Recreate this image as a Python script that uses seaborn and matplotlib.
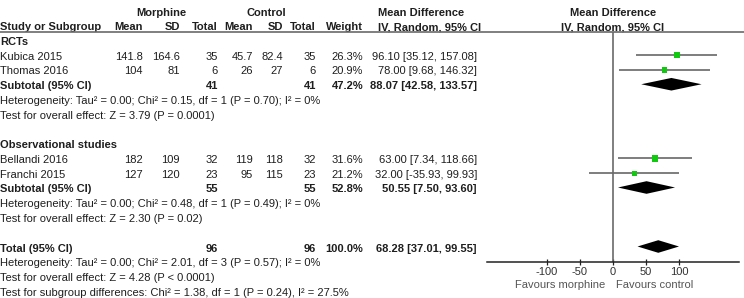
import numpy as np
import pandas as pd
import seaborn as sns
import matplotlib.pyplot as plt
from matplotlib.lines import Line2D

# study level data
studies = ["Kubica 2015", "Thomas 2016", "Bellandi 2016", "Franchi 2015"]
groups = ["RCTs", "RCTs", "Observational studies", "Observational studies"]
morph_mean = [141.8, 104, 182, 127]
morph_sd = [164.6, 81, 109, 120]
morph_n = [35, 6, 32, 23]
ctrl_mean = [45.7, 26, 119, 95]
ctrl_sd = [82.4, 27, 118, 115]
ctrl_n = [35, 6, 32, 23]
weight = [26.3, 20.9, 31.6, 21.2]
md = [96.10, 78.00, 63.00, 32.00]
md_lo = [35.12, 9.68, 7.34, -35.93]
md_hi = [157.08, 146.32, 118.66, 99.93]

# subgroup / total pooled results
sub_names = ["RCTs", "Observational studies"]
sub_n = [41, 55]
sub_w = [47.2, 52.8]
sub_md = [88.07, 50.55]
sub_lo = [42.58, 7.50]
sub_hi = [133.57, 93.60]
sub_het = ["Heterogeneity: Tau² = 0.00; Chi² = 0.15, df = 1 (P = 0.70); I² = 0%",
           "Heterogeneity: Tau² = 0.00; Chi² = 0.48, df = 1 (P = 0.49); I² = 0%"]
sub_z = ["Test for overall effect: Z = 3.79 (P = 0.0001)",
         "Test for overall effect: Z = 2.30 (P = 0.02)"]
tot_n = 96
tot_md, tot_lo, tot_hi = 68.28, 37.01, 99.55
tot_lines = ["Heterogeneity: Tau² = 0.00; Chi² = 2.01, df = 3 (P = 0.57); I² = 0%",
             "Test for overall effect: Z = 4.28 (P < 0.0001)",
             "Test for subgroup differences: Chi² = 1.38, df = 1 (P = 0.24), I² = 27.5%"]
xticks = [-100, -50, 0, 50, 100]

sns.set_theme(style="white")
plt.rcParams["font.family"] = ["Liberation Sans", "DejaVu Sans"]
FS = 8.0
TXT = "#1e1e1e"

fig = plt.figure(figsize=(7.44, 2.98), dpi=100)
tax = fig.add_axes([0, 0, 1, 1])
tax.set_xlim(0, 744)
tax.set_ylim(298, 0)
tax.axis("off")

def row_y(i):
    return 12 + 14.75 * i

def put(x, i, s, ha="left", bold=False, color=TXT):
    tax.text(x, row_y(i) + 0.5, s, ha=ha, va="center", fontsize=FS,
             fontweight="bold" if bold else "normal", color=color)

# column right edges
cols = [143, 180, 218, 253, 283, 316, 363, 477]

# headers
put(161, 0, "Morphine", ha="center", bold=True)
put(266, 0, "Control", ha="center", bold=True)
put(378, 0, "Mean Difference", bold=True)
put(613, 0, "Mean Difference", ha="center", bold=True)
put(0, 1, "Study or Subgroup", bold=True)
for c, h in zip(cols[:7], ["Mean", "SD", "Total", "Mean", "SD", "Total", "Weight"]):
    put(c, 1, h, ha="right", bold=True)
put(378, 1, "IV, Random, 95% CI", bold=True)
put(613, 1, "IV, Random, 95% CI", ha="center", bold=True)
fig.add_artist(Line2D([0, 1], [1 - 32.3 / 298] * 2, color="#6a6a6a", lw=1.2))

df = pd.DataFrame({"study": studies, "group": groups, "md": md, "lo": md_lo,
                   "hi": md_hi, "weight": weight})

# forest axes
fax = fig.add_axes([486.7 / 744, (298 - 261.7) / 298, 252.6 / 744, 229.4 / 298])
fax.set_xlim(-190.5, 190.5)
fax.set_ylim(261.7, 32.3)
fax.patch.set_alpha(0)

i = 2
ys = []
for g in range(2):
    put(0, i, sub_names[g], bold=True)
    i += 1
    for k in range(len(studies)):
        if groups[k] != sub_names[g]:
            continue
        vals = [f"{morph_mean[k]:g}", f"{morph_sd[k]:g}", f"{morph_n[k]}",
                f"{ctrl_mean[k]:g}", f"{ctrl_sd[k]:g}", f"{ctrl_n[k]}",
                f"{weight[k]:.1f}%", f"{md[k]:.2f} [{md_lo[k]:.2f}, {md_hi[k]:.2f}]"]
        put(0, i, studies[k])
        for c, v in zip(cols, vals):
            put(c, i, v, ha="right")
        ys.append(row_y(i) - 1)
        i += 1
    put(0, i, "Subtotal (95% CI)", bold=True)
    put(cols[2], i, f"{sub_n[g]}", ha="right", bold=True)
    put(cols[5], i, f"{sub_n[g]}", ha="right", bold=True)
    put(cols[6], i, f"{sub_w[g]:.1f}%", ha="right", bold=True)
    put(cols[7], i, f"{sub_md[g]:.2f} [{sub_lo[g]:.2f}, {sub_hi[g]:.2f}]", ha="right", bold=True)
    yd = row_y(i) - 1.5
    fax.fill([sub_lo[g], sub_md[g], sub_hi[g], sub_md[g]], [yd, yd - 6.3, yd, yd + 6.3],
             color="black", lw=0)
    i += 1
    put(0, i, sub_het[g])
    i += 1
    put(0, i, sub_z[g])
    i += 2

put(0, i, "Total (95% CI)", bold=True)
put(cols[2], i, f"{tot_n}", ha="right", bold=True)
put(cols[5], i, f"{tot_n}", ha="right", bold=True)
put(cols[6], i, "100.0%", ha="right", bold=True)
put(cols[7], i, f"{tot_md:.2f} [{tot_lo:.2f}, {tot_hi:.2f}]", ha="right", bold=True)
yd = row_y(i) - 1.5
fax.fill([tot_lo, tot_md, tot_hi, tot_md], [yd, yd - 6.3, yd, yd + 6.3], color="black", lw=0)
for s in tot_lines:
    i += 1
    put(0, i, s)

df["y"] = ys
fax.hlines(df["y"], df["lo"], df["hi"], color="#5a5a5a", lw=1.1)
sns.scatterplot(data=df, x="md", y="y", size="weight", sizes=(14.4, 21.8),
                size_norm=(20.9, 31.6), marker="s", color="#12c912", linewidth=0,
                legend=False, ax=fax, zorder=3)
fax.axvline(0, color="#6a6a6a", lw=1.2)

for sp in ["top", "left", "right"]:
    fax.spines[sp].set_visible(False)
fax.spines["bottom"].set_color("#222222")
fax.spines["bottom"].set_linewidth(1.1)
fax.set_yticks([])
fax.set_xticks(xticks)
fax.set_xticklabels([f"{t}" for t in xticks])
fax.tick_params(axis="x", direction="inout", length=5, width=0.9, color="#222222",
                labelsize=FS, labelcolor="#333333", pad=1.5, bottom=True)
fax.set_xlabel("")
fax.set_ylabel("")

tax.text(605, 285, "Favours morphine", ha="right", va="center", fontsize=FS, color="#555555")
tax.text(616, 285, "Favours control", ha="left", va="center", fontsize=FS, color="#555555")

fig.savefig("out.png", dpi=100)
